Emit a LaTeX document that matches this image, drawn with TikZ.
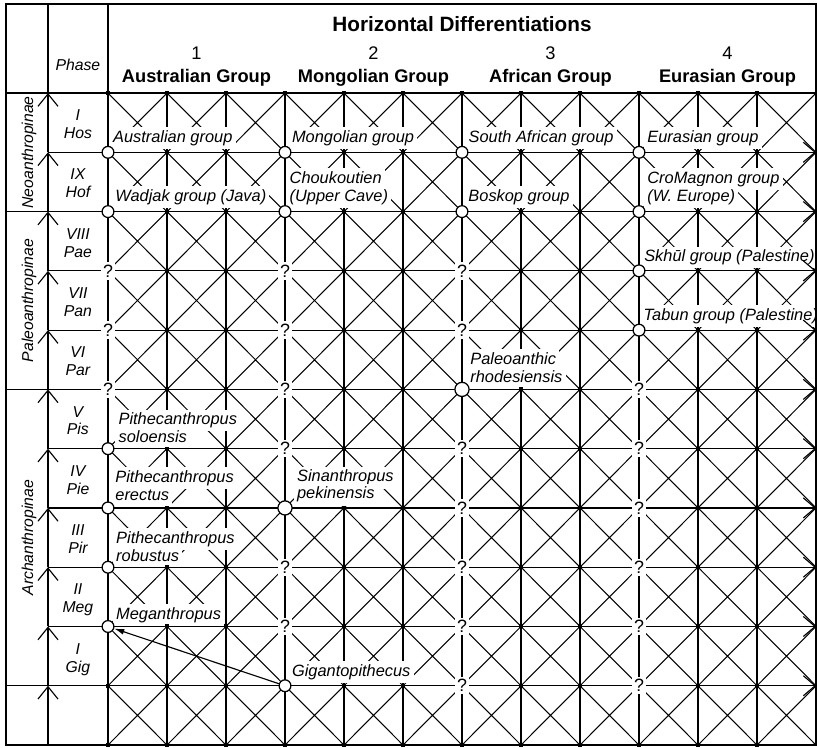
\documentclass[tikz,border=0pt]{standalone}
\usepackage{fontspec}
\setmainfont{Liberation Sans}
\usetikzlibrary{arrows.meta}

\tikzset{
  thin line/.style={line width=0.55pt},
  group line/.style={line width=1.1pt},
  diag line/.style={line width=0.5pt},
  frame line/.style={line width=0.7pt},
  up arrow/.style={thin line, -{Straight Barb[length=0.21cm, width=0.34cm]}},
  right arrow/.style={thin line, -{Straight Barb[length=0.2cm, width=0.34cm]}},
  taxon/.style={fill=white, inner sep=1.5pt, anchor=base west, text height=5.8pt, text depth=1.7pt, font=\itshape\fontsize{7.9}{8.7}\selectfont},
  phaselbl/.style={anchor=base, font=\itshape\fontsize{7.6}{8.3}\selectfont},
  subfamily/.style={rotate=90, anchor=base, font=\itshape\fontsize{7.6}{8}\selectfont},
  gdot/.style={rectangle, fill, inner sep=0pt, minimum size=0.068cm},
  ring/.style={circle, draw, fill=white, line width=0.6pt, inner sep=0pt, minimum size=0.2cm},
  big ring/.style={ring, minimum size=0.24cm},
  query/.style={fill=white, inner sep=1.2pt, font=\fontsize{8.6}{9}\selectfont},
}

\begin{document}
\begin{tikzpicture}[x=1cm, y=1.0046cm]
\useasboundingbox (-1.8305,-0.034) rectangle (12.017,12.57);

% grid points
\foreach \i in {0,...,12}
  \foreach \j in {0,...,11}
    \coordinate (p-\i-\j) at (\i,\j);
\foreach \j in {0,...,11} {
  \coordinate (ph-\j) at (-1.017,\j);
  \coordinate (lc-\j) at (-1.729,\j);
}
\coordinate (ph-top) at (-1.017,12.5);
\coordinate (p-0-top) at (0,12.5);
\coordinate (p-12-top) at (12,12.5);

% crosses in every cell
\foreach \i in {0,...,11}
  \foreach \j in {0,...,10} {
    \pgfmathtruncatemacro{\k}{\i+1}
    \pgfmathtruncatemacro{\m}{\j+1}
    \draw[diag line] (p-\i-\j) -- (p-\k-\m) (p-\k-\j) -- (p-\i-\m);
  }

% verticals
\foreach \i in {1,2,4,5,7,8,10,11}
  \draw[thin line] (p-\i-0) -- (p-\i-11);
\foreach \i in {3,6,9}
  \draw[group line] (p-\i-0) -- (p-\i-11);
\draw[group line] (p-0-0) -- (p-0-top);

% taxa
\node[taxon] (aus) at ([shift={(0.027,0.169)}]p-0-10) {Australian group};
\node[taxon] (mon) at ([shift={(0.06,0.169)}]p-3-10) {Mongolian group};
\node[taxon] (saf) at ([shift={(0.054,0.169)}]p-6-10) {South African group};
\node[taxon] (eur) at ([shift={(0.083,0.169)}]p-9-10) {Eurasian group};
\node[taxon] (wad) at ([shift={(0.066,0.169)}]p-0-9) {Wadjak group (Java)};
\node[taxon] (chou-a) at ([shift={(0.02,0.473)}]p-3-9) {Choukoutien};
\node[taxon] (chou-b) at ([shift={(0.02,0.169)}]p-3-9) {(Upper Cave)};
\node[taxon] (bos) at ([shift={(0.05,0.169)}]p-6-9) {Boskop group};
\node[taxon] (cro-a) at ([shift={(0.083,0.473)}]p-9-9) {CroMagnon group};
\node[taxon] (cro-b) at ([shift={(0.083,0.169)}]p-9-9) {(W. Europe)};
\node[taxon] (skh) at ([shift={(0.03,0.152)}]p-9-8) {Skhūl group (Palestine)};
\node[taxon] (tab) at ([shift={(0.02,0.169)}]p-9-7) {Tabun group (Palestine)};
\node[taxon] (rho-a) at ([shift={(0.083,0.423)}]p-6-6) {Paleoanthic};
\node[taxon] (rho-b) at ([shift={(0.083,0.123)}]p-6-6) {rhodesiensis};
\node[taxon] (solo-a) at ([shift={(0.12,0.405)}]p-0-5) {Pithecanthropus};
\node[taxon] (solo-b) at ([shift={(0.12,0.096)}]p-0-5) {soloensis};
\node[taxon] (erec-a) at ([shift={(0.066,0.433)}]p-0-4) {Pithecanthropus};
\node[taxon] (erec-b) at ([shift={(0.066,0.123)}]p-0-4) {erectus};
\node[taxon] (pek-a) at ([shift={(0.146,0.439)}]p-3-4) {Sinanthropus};
\node[taxon] (pek-b) at ([shift={(0.146,0.152)}]p-3-4) {pekinensis};
\node[taxon] (rob-a) at ([shift={(0.08,0.405)}]p-0-3) {Pithecanthropus};
\node[taxon] (rob-b) at ([shift={(0.08,0.101)}]p-0-3) {robustus};
\node[taxon] (meg) at ([shift={(0.08,0.123)}]p-0-2) {Meganthropus};
\node[taxon] (gig) at ([shift={(0.06,0.164)}]p-3-1) {Gigantopithecus};

% horizontals
\foreach \j in {1,...,10} {
  \draw[right arrow] (p-0-\j) -- (p-12-\j);
  \draw[thin line] (ph-\j) -- (p-0-\j);
}
\foreach \j in {9,6,1}
  \draw[thin line] (lc-\j) -- (ph-\j);
\draw[thin line] (lc-11) -- (p-12-11);

% phase axis
\foreach \j [evaluate=\j as \m using int(\j+1)] in {0,...,10}
  \draw[up arrow] (ph-\j) -- (ph-\m);
\draw[thin line] (ph-11) -- (ph-top);

% frame
\draw[frame line] (lc-0) rectangle (p-12-top);

% header
\node[anchor=base, font=\bfseries\fontsize{10}{12}\selectfont] (title) at (6,12.03) {Horizontal Differentiations};
\foreach \n/\name in {1/Australian,2/Mongolian,3/African,4/Eurasian} {
  \pgfmathsetmacro{\x}{3*\n-1.5}
  \node[anchor=base, font=\fontsize{8.8}{9}\selectfont] (num-\n) at (\x,11.56) {\n};
  \node[anchor=base, font=\bfseries\fontsize{8.8}{10}\selectfont] (grp-\n) at (\x,11.18) {\name\ Group};
}
\node[phaselbl] (phase-head) at (-0.51,11.38) {Phase};

% phases
\foreach \j/\rn/\ab in {10/I/Hos,9/IX/Hof,8/VIII/Pae,7/VII/Pan,6/VI/Par,5/V/Pis,4/IV/Pie,3/III/Pir,2/II/Meg,1/I/Gig} {
  \node[phaselbl] (rn-\j) at ([yshift=0.536cm]ph-\j -| -0.51,0) {\rn};
  \node[phaselbl] (ab-\j) at ([yshift=0.232cm]ph-\j -| -0.51,0) {\ab};
}

% subfamilies
\node[subfamily] (neo) at (-1.271,10) {Neoanthropinae};
\node[subfamily] (paleo) at (-1.271,7.5) {Paleoanthropinae};
\node[subfamily] (arch) at (-1.271,3.5) {Archanthropinae};

% dots
\foreach \i in {1,2,4,5,7,8,10,11}
  \foreach \j in {0,...,11}
    \node[gdot] (d-\i-\j) at (p-\i-\j) {};
\foreach \i in {0,3,6,9} {
  \node[gdot] (d-\i-0) at (p-\i-0) {};
  \node[gdot] (d-\i-11) at (p-\i-11) {};
}
\node[gdot] (d-0-1) at (p-0-1) {};

% finds and gaps
\foreach \i/\j in {0/10,3/10,6/10,9/10,0/9,3/9,6/9,9/9,9/8,9/7,0/5,0/4,0/3,0/2,3/1}
  \node[ring] (c-\i-\j) at (p-\i-\j) {};
\node[big ring] (c-6-6) at (p-6-6) {};
\node[big ring] (c-3-4) at (p-3-4) {};
\foreach \i/\j in {0/8,3/8,6/8,0/7,3/7,6/7,0/6,3/6,9/6,3/5,6/5,9/5,6/4,9/4,3/3,6/3,9/3,3/2,6/2,9/2,6/1,9/1}
  \node[query] (q-\i-\j) at (p-\i-\j) {?};

\draw[thin line, -{Latex[length=0.17cm, width=0.1cm]}] (c-3-1) -- (c-0-2);

\end{tikzpicture}
\end{document}
